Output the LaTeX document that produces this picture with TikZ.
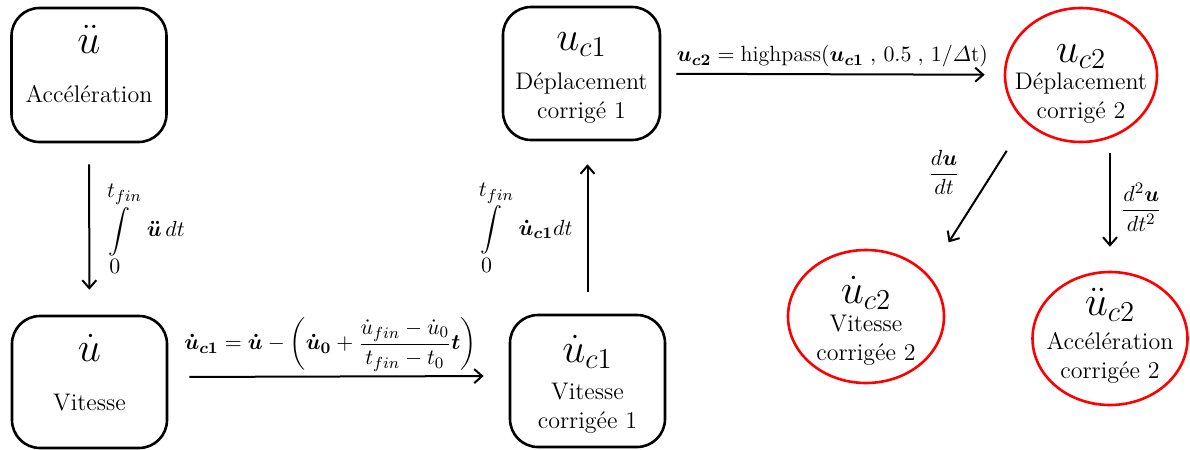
\documentclass[tikz,border=0pt]{standalone}
\usepackage{amsmath}
\usepackage{fontspec}
\usetikzlibrary{shapes.geometric, arrows.meta}

\begin{document}
\begin{tikzpicture}[x=.5pt, y=-.5pt, >={Straight Barb[length=4pt,width=7pt]},
    rbox/.style={draw, line width=1.3pt, rounded corners=14pt, minimum width=77.5pt, minimum height=66pt},
    ring/.style={draw=red, ellipse, line width=1.3pt, inner sep=0pt},
    sym/.style={anchor=base, inner sep=0pt, font=\fontsize{22}{24}\selectfont},
    txt/.style={anchor=base, inner sep=0pt, align=center, font=\fontsize{12}{14.5}\selectfont},
    lab/.style={inner sep=1pt, font=\fontsize{11}{13}\selectfont},
    link/.style={->, line width=1pt}]
  \useasboundingbox (0, 0) rectangle (1190, 450);
  % boxes of the first correction
  \node [rbox, minimum height=67pt] (acc) at (89, 75) {};
  \node [rbox] (vit) at (89.5, 382) {};
  \node [rbox] (vitc) at (587.5, 381) {};
  \node [rbox, minimum width=78.5pt, minimum height=66.5pt] (dep) at (581.5, 73.5) {};
  % circles of the second correction
  \node [ring, minimum width=76pt, minimum height=67pt] (dep2) at (1081, 75) {};
  \node [ring, minimum width=78pt, minimum height=66.5pt] (vit2) at (866, 316.5) {};
  \node [ring, minimum width=77.5pt, minimum height=66.5pt] (acc2) at (1110, 338.5) {};
  % contents (base = last line)
  \node [sym] (acc-s) at (89, 53) {$\ddot{u}$};
  \node [txt] (acc-t) at (89, 102) {Accélération};
  \node [sym] (vit-s) at (89.5, 361) {$\dot{u}$};
  \node [txt] (vit-t) at (89.5, 410) {Vitesse};
  \node [sym] (vitc-s) at (587.5, 362) {$\dot{u}_{c1}$};
  \node [txt] (vitc-t) at (587.5, 428) {Vitesse\\corrigée 1};
  \node [sym] (dep-s) at (581.5, 50) {$u_{c1}$};
  \node [txt] (dep-t) at (581.5, 118) {Déplacement\\corrigé 1};
  \node [sym] (dep2-s) at (1081, 62) {$u_{c2}$};
  \node [txt] (dep2-t) at (1081, 118) {Déplacement\\corrigé 2};
  \node [sym] (vit2-s) at (866, 303) {$\dot{u}_{c2}$};
  \node [txt] (vit2-t) at (866, 360) {Vitesse\\corrigée 2};
  \node [sym] (acc2-s) at (1110, 315) {$\ddot{u}_{c2}$};
  \node [txt] (acc2-t) at (1110, 378) {Accélération\\corrigée 2};
  % connectors
  \draw [link, shorten <=10.5pt, shorten >=12.5pt] (acc) -- (vit)
    node [lab, midway, right=5pt] {$\displaystyle\int\limits_{\textstyle 0}^{\textstyle t_{fin}}\;\boldsymbol{\ddot{u}}\,dt$};
  \draw [link, shorten <=10.5pt, shorten >=12.5pt] ([yshift=2.5pt]vit.east) -- ([yshift=2.5pt]vitc.west)
    node [lab, midway, above=1pt, xshift=-4pt] {$\displaystyle\boldsymbol{\dot{u}_{c1}} = \boldsymbol{\dot{u}} - \left(\boldsymbol{\dot{u}_0} + \frac{\dot{u}_{fin} - \dot{u}_0}{t_{fin} - t_0}\boldsymbol{t}\right)$};
  \draw [link, shorten <=11pt, shorten >=11.5pt] (vitc) -- (vitc |- dep.south)
    node [lab, midway, left=6pt] {$\displaystyle\int\limits_{\textstyle 0}^{\textstyle t_{fin}}\;\boldsymbol{\dot{u}_{c1}}dt$};
  \draw [link, shorten <=7.5pt, shorten >=9.5pt] (dep) -- (dep2)
    node [lab, midway, above=2pt] {$\boldsymbol{u_{c2}} = \text{highpass}(\boldsymbol{u_{c1}}\;,\,0.5\;,\,1/\varDelta\text{t})$};
  \draw [link, shorten <=17pt, shorten >=19pt] (dep2.220) -- (vit2.34)
    node [lab, pos=.33, xshift=-24.5pt] {$\dfrac{d\boldsymbol{u}}{dt}$};
  \draw [link, shorten <=5pt, shorten >=12pt] (dep2.south -| acc2) -- (acc2)
    node [lab, midway, right=4pt] {$\dfrac{d^2\boldsymbol{u}}{dt^2}$};
\end{tikzpicture}
\end{document}
